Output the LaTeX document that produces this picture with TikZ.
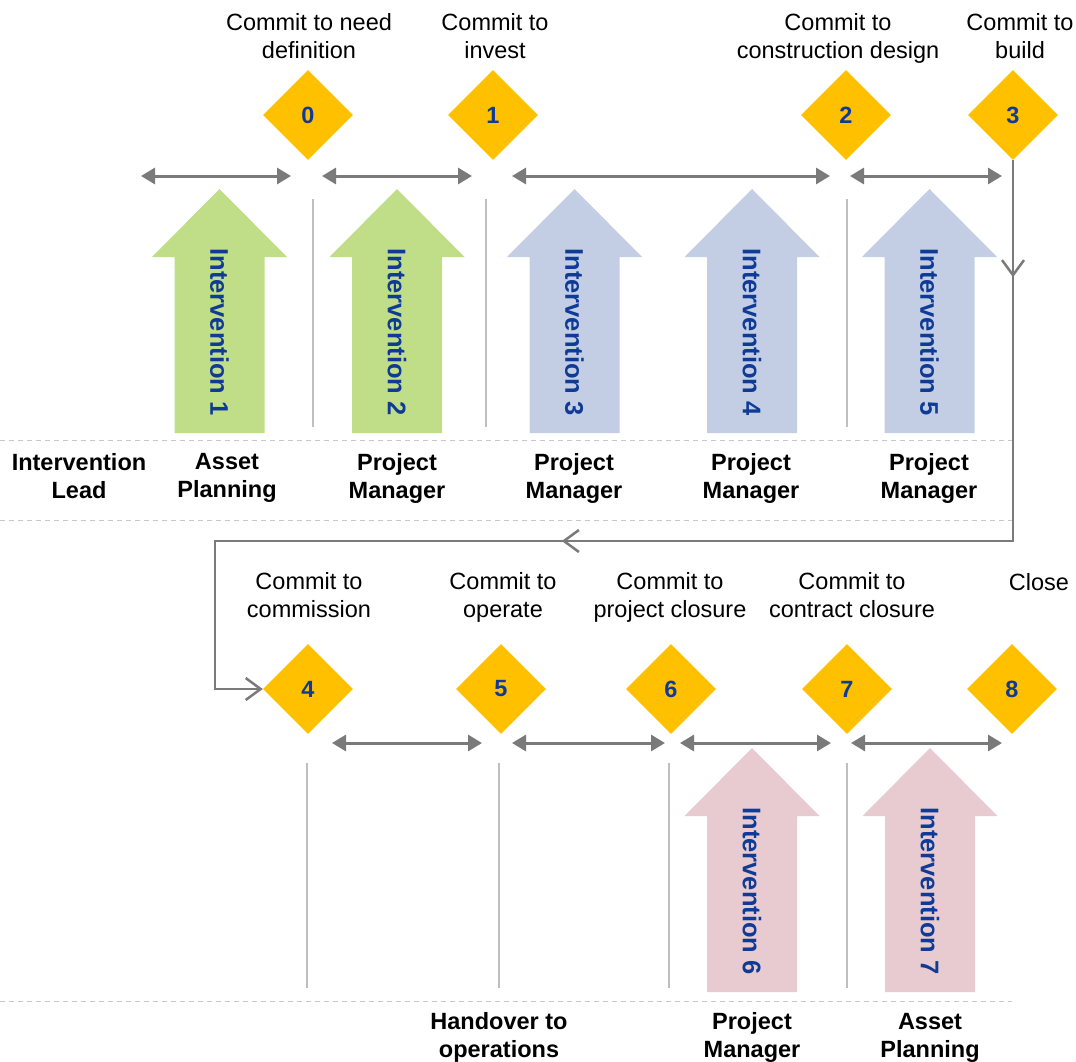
\documentclass[tikz,border=0pt]{standalone}
\usepackage{fontspec}
\setmainfont{Liberation Sans}
\usetikzlibrary{shapes.geometric,arrows.meta,decorations.markings}

\definecolor{gold}{HTML}{FFC000}
\definecolor{navy}{HTML}{0F3A96}
\definecolor{spangrey}{HTML}{7A7A7A}
\definecolor{rulegrey}{HTML}{BFBFBF}
\definecolor{planGreen}{HTML}{C0DD88}
\definecolor{deliverBlue}{HTML}{C3CEE4}
\definecolor{closePink}{HTML}{E7CBD0}

% block arrow pointing up: name, centre x, apex y, fill colour, label
\newcommand{\blockarrow}[5]{%
  \fill[#4] (#2-67.5,#3+68) -- (#2,#3) -- (#2+67.5,#3+68) -- (#2+45,#3+68)
    -- (#2+45,#3+244) -- (#2-45,#3+244) -- (#2-45,#3+68) -- cycle;
  \node[armlabel] (#1) at (#2,#3+143) {#5};
}

\tikzset{
  % struts on the first and last line keep every text box the same height
  strutted/.style={execute at begin node={\strut}, execute at end node={\strut}},
  caption/.style={align=center, inner sep=0pt, strutted,
    font=\fontsize{23.5}{28}\selectfont},
  rolelabel/.style={align=center, inner sep=0pt, strutted,
    font=\bfseries\fontsize{23.5}{28}\selectfont},
  gate/.style={diamond, fill=gold, minimum width=90pt, minimum height=90pt,
    inner sep=0pt, text=navy, font=\bfseries\fontsize{23.5}{28}\selectfont},
  armlabel/.style={rotate=-90, inner sep=0pt, text=navy,
    font=\bfseries\fontsize{25.5}{30}\selectfont},
  spanarrow/.style={draw=spangrey, line width=3pt,
    {Triangle[length=14pt,width=16pt]}-{Triangle[length=14pt,width=16pt]}},
  sepline/.style={draw=rulegrey, line width=1.5pt},
  dashline/.style={draw=rulegrey!85, line width=1pt, dash pattern=on 5pt off 4pt},
  flowline/.style={draw=spangrey, line width=2.5pt},
  vtip/.tip={Straight Barb[length=15pt,width=22pt]},
}

\begin{document}
\begin{tikzpicture}[x=1pt,y=-1pt]
\useasboundingbox (0,0) rectangle (1076,1062);

% ---- upper band -------------------------------------------------------
\node[caption] (t0) at (309,39.8) {Commit to need\\definition};
\node[caption] (t1) at (495,39.8) {Commit to\\invest};
\node[caption] (t2) at (838,39.8) {Commit to\\construction design};
\node[caption] (t3) at (1020,39.8) {Commit to\\build};

\node[gate] (d0) at (308,115) {0};
\node[gate] (d1) at (493,115) {1};
\node[gate] (d2) at (846,115) {2};
\node[gate] (d3) at (1013,115) {3};

\coordinate (a0l) at (141,176); \coordinate (a0r) at (291,176);
\coordinate (a1l) at (322,176); \coordinate (a1r) at (472,176);
\coordinate (a2l) at (512,176); \coordinate (a2r) at (830,176);
\coordinate (a3l) at (850,176); \coordinate (a3r) at (1002,176);
\draw[spanarrow] (a0l) -- (a0r);
\draw[spanarrow] (a1l) -- (a1r);
\draw[spanarrow] (a2l) -- (a2r);
\draw[spanarrow] (a3l) -- (a3r);

\draw[sepline] (313,199) -- (313,427);
\draw[sepline] (486,199) -- (486,427);
\draw[sepline] (847,199) -- (847,427);

\blockarrow{i1}{219.5}{189}{planGreen}{Intervention 1}
\blockarrow{i2}{397}{189}{planGreen}{Intervention 2}
\blockarrow{i3}{574.5}{189}{deliverBlue}{Intervention 3}
\blockarrow{i4}{752}{189}{deliverBlue}{Intervention 4}
\blockarrow{i5}{929.5}{189}{deliverBlue}{Intervention 5}

\draw[dashline] (0,440) -- (1012,440);
\draw[dashline] (0,520) -- (1012,520);

\node[rolelabel] (r0) at (79,479.8) {Intervention\\Lead};
\node[rolelabel] (r1) at (227,479.8) {Asset\\Planning};
\node[rolelabel] (r2) at (397,479.8) {Project\\Manager};
\node[rolelabel] (r3) at (574,479.8) {Project\\Manager};
\node[rolelabel] (r4) at (751,479.8) {Project\\Manager};
\node[rolelabel] (r5) at (929,479.8) {Project\\Manager};

% ---- lower band -------------------------------------------------------
\node[caption] (t4) at (309,598.8) {Commit to\\commission};
\node[caption] (t5) at (503,598.8) {Commit to\\operate};
\node[caption] (t6) at (670,598.8) {Commit to\\project closure};
\node[caption] (t7) at (852,598.8) {Commit to\\contract closure};
\node[caption] (t8) at (1039,584.8) {Close};

\node[gate] (d4) at (308,689) {4};
\node[gate] (d5) at (501,689) {5};
\node[gate] (d6) at (671,689) {6};
\node[gate] (d7) at (847,689) {7};
\node[gate] (d8) at (1012,689) {8};

% flow from gate 3 back round to gate 4
\coordinate (turnA) at (1013,541);
\coordinate (turnB) at (215,541);
\draw[flowline, -{vtip},
  postaction={decorate, decoration={markings,
    mark=at position 117pt with {\arrow{vtip}},
    mark=at position 832pt with {\arrow{vtip}}}}]
  (d3.south) -- (turnA) -- (turnB) |- (d4.west);

\coordinate (b0l) at (332,743); \coordinate (b0r) at (482,743);
\coordinate (b1l) at (512,743); \coordinate (b1r) at (665,743);
\coordinate (b2l) at (680,743); \coordinate (b2r) at (831,743);
\coordinate (b3l) at (851,743); \coordinate (b3r) at (1002,743);
\draw[spanarrow] (b0l) -- (b0r);
\draw[spanarrow] (b1l) -- (b1r);
\draw[spanarrow] (b2l) -- (b2r);
\draw[spanarrow] (b3l) -- (b3r);

\draw[sepline] (307,763) -- (307,988);
\draw[sepline] (499,763) -- (499,988);
\draw[sepline] (669,763) -- (669,988);
\draw[sepline] (847,763) -- (847,988);

\blockarrow{i6}{752}{748}{closePink}{Intervention 6}
\blockarrow{i7}{930}{748}{closePink}{Intervention 7}

\draw[dashline] (0,1001) -- (1012,1001);

\node[rolelabel] (r6) at (499,1039.3) {Handover to\\operations};
\node[rolelabel] (r7) at (752,1039.3) {Project\\Manager};
\node[rolelabel] (r8) at (930,1039.3) {Asset\\Planning};
\end{tikzpicture}
\end{document}
